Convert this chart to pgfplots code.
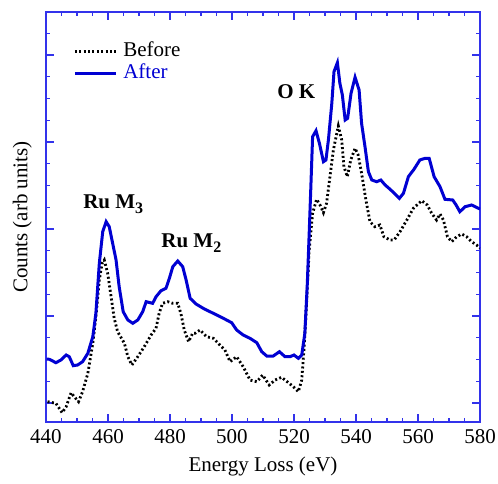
\documentclass[border=0pt]{standalone}
\usepackage{fontspec}
\setmainfont{Liberation Serif}
\usepackage{pgfplots}
\pgfplotsset{compat=1.18}
\definecolor{cblue}{RGB}{0,0,210}
\definecolor{cframe}{RGB}{50,50,235}
\newcommand{\lsub}[1]{\raisebox{-0.55ex}{\fontsize{8}{9}\selectfont\bfseries #1}}
\begin{document}
\begin{tikzpicture}[font=\fontsize{10.5}{12.6}\selectfont]
\begin{axis}[
  name=ax,
  scale only axis, width=217pt, height=205pt,
  xmin=440, xmax=580, ymin=0, ymax=410,
  xtick={440,460,...,580}, minor x tick num=3,
  ytick={19,106,193,280,367}, yticklabels={},
  minor ytick={40.75,62.5,84.25,127.75,149.5,171.25,214.75,236.5,258.25,301.75,323.5,345.25,388.75},
  tick align=inside,
  major tick length=4pt, minor tick length=2pt,
  axis line style={cframe, line width=1pt},
  every tick/.style={cframe, line width=0.7pt},
  /pgf/number format/assume math mode=true,
  xlabel={Energy Loss (eV)},
  ylabel={Counts (arb units)},
  ylabel style={at={(axis description cs:-0.043,0.5)}, anchor=base},
  legend style={draw=none, fill=none, at={(axis description cs:0.062,0.93)}, anchor=north west,
    inner sep=0pt, row sep=1pt, column sep=3pt,
    nodes={inner sep=0pt, text height=7.5pt, text depth=2.5pt}},
  legend image code/.code={\draw[#1] (0pt,0pt) -- (20.5pt,0pt);},
  legend cell align=left,
]
\addplot[black, line width=1.4pt, dash pattern=on 1.0pt off 1.2pt] coordinates {
(440.5,20.3)(443.2,18.7)(445.2,9.3)(446.5,15.3)(448.1,29.3)(449.1,25.3)(450.5,20.3)(451.8,30.3)
(453.5,48.7)(455.1,78.7)(456.1,105.3)(457.2,142)(458.1,158.7)(458.8,162)(459.9,148.7)(461.0,125.3)
(462.0,103.7)(463.1,90.3)(465.3,78.7)(466.4,65.3)(467.7,57)(469.6,65.3)(471.7,75.3)(473.9,87)
(475.5,93.7)(476.5,108.7)(477.6,118.7)(479.3,120.3)(480.9,118.7)(482.5,118.7)(483.5,108.7)(484.6,92)
(486.0,80.3)(487.3,88.7)(488.1,88.7)(489.7,92)(491.8,85.3)(494.0,83.7)(496.1,77)(497.7,72)
(499.4,60.3)(501.5,65.3)(503.6,55.3)(505.8,42)(508.0,40.3)(509.9,47)(512.0,37)(513.9,42)
(516.0,44.7)(518.2,39.3)(519.8,35.3)(521.4,30.3)(522.5,42)(523.2,72)(524.1,122)(524.9,172)
(526.0,208.7)(527.3,222.7)(528.4,217)(529.5,209.3)(530.5,218.7)(531.6,245.3)(532.7,272)(534.3,296)
(535.4,282)(536.1,255.3)(537.2,245.3)(538.3,262)(539.7,273.7)(540.7,267)(541.8,248.7)(543.2,222)
(544.5,200.3)(546.1,195.3)(547.7,197)(549.0,185.3)(551.0,182)(552.3,182)(554.2,190.3)(556.4,202)
(558.5,213.7)(561.2,221.3)(563.0,217)(564.4,208.7)(566.0,202)(567.1,208)(568.2,202)(569.5,185.3)
(570.9,180.3)(572.5,185.3)(574.1,188)(575.7,185.3)(577.3,180.3)(578.9,177)(580,174)
};
\addlegendentry{Before}
\addplot[cblue, line width=1.5pt] coordinates {
(440.2,63)(441.1,62.7)(443.2,59.3)(444.8,62)(446.5,67)(447.5,65.3)(448.8,56.3)(450.2,57)(451.8,60.3)
(453.5,68.7)(455.1,85.3)(456.1,109)(457.2,158.7)(458.3,190.3)(459.4,200.3)(460.4,195.3)(461.5,178.7)
(462.6,162)(463.6,135.3)(464.9,110.3)(466.4,102)(468.0,98.7)(469.6,102)(471.2,110.3)(472.3,120.3)
(474.4,118.7)(475.5,125.3)(477.1,131.3)(478.7,133.7)(479.8,143.7)(480.9,155.3)(482.5,161)(484.1,155.3)
(485.2,142)(486.5,123.7)(488.4,118)(490.7,113.7)(492.9,110.3)(495.1,107)(497.2,103.7)(499.9,99.3)
(501.5,92)(503.6,87)(505.8,83.7)(508.0,79.3)(509.6,70.3)(511.2,66)(513.3,66)(515.3,70.3)
(517.1,65.3)(518.7,65.3)(520.0,67)(521.4,63.7)(522.5,67)(523.5,88.7)(524.3,138.7)(524.9,188.7)
(525.4,232)(526.0,285.3)(527.1,291.3)(528.2,278.7)(529.5,260.3)(530.3,262)(531.1,282)(532.2,318.7)
(532.9,350.3)(534.0,359.3)(534.8,338.7)(535.6,327)(536.5,302)(537.3,303.7)(538.4,328.7)(539.7,344.7)
(541.0,332)(541.8,298.7)(542.9,275.3)(544.0,250.3)(545.1,242)(546.7,240.3)(548.0,242)(549.4,237)
(551.0,232.7)(552.6,228)(554.0,223.7)(555.3,228.7)(556.9,245.3)(558.7,252.7)(560.6,262)(562.3,263.7)
(563.6,263.7)(565.2,245.3)(567.1,235.3)(568.7,222.7)(571.2,222)(572.3,217)(573.5,210.3)(575.2,215.3)
(577.3,217)(579.5,213.7)(580,213)
};
\addlegendentry{\textcolor{cblue}{After}}
\node[anchor=base west, inner sep=0pt, font=\fontsize{10.5}{12.6}\selectfont\bfseries] at (axis cs:451.9,214) {Ru M\lsub{3}};
\node[anchor=base west, inner sep=0pt, font=\fontsize{10.5}{12.6}\selectfont\bfseries] at (axis cs:477.1,175) {Ru M\lsub{2}};
\node[anchor=base west, inner sep=0pt, font=\fontsize{10.5}{12.6}\selectfont\bfseries] at (axis cs:514.5,324) {O K};
\end{axis}
\path (ax.south west) ++(-23pt,-30.5pt) coordinate (bl);
\path (ax.north east) ++(9pt,6pt) coordinate (tr);
\pgfresetboundingbox
\path (bl) rectangle (tr);
\end{tikzpicture}
\end{document}
